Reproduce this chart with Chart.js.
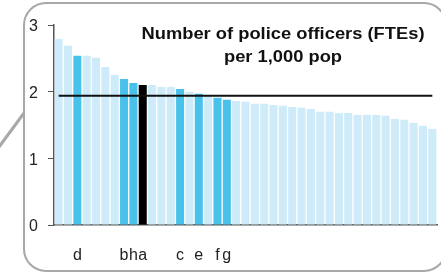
<!DOCTYPE html>
<html>
<head>
<meta charset="utf-8">
<script src="https://cdn.jsdelivr.net/npm/chart.js@4"></script>
<style>
    html, body { margin: 0; padding: 0; background: #fff; }
    #wrap { position: relative; width: 441px; height: 273px; }
</style>
</head>
<body>
<div id="wrap"><canvas id="policeChart" width="441" height="273"></canvas></div>
<script>
// forces, sorted high to low; letters mark the highlighted ones
const forceLabels = ['', '', 'd', '', '', '', '', 'b', 'h', 'a',
    '', '', '', 'c', '', 'e', '', 'f', 'g', '',
    '', '', '', '', '', '', '', '', '', '',
    '', '', '', '', '', '', '', '', '', '', ''];
const officersPer1000 = [2.79, 2.69, 2.54, 2.54, 2.51, 2.37, 2.25, 2.19, 2.13, 2.10,
    2.10, 2.07, 2.07, 2.04, 2.00, 1.97, 1.95, 1.91, 1.88, 1.86,
    1.85, 1.82, 1.82, 1.80, 1.79, 1.77, 1.76, 1.74, 1.70, 1.70,
    1.68, 1.68, 1.65, 1.65, 1.65, 1.64, 1.59, 1.58, 1.53, 1.49, 1.44];
const averageValue = 1.94;
const yTicks = [0, 1, 2, 3];

const LIGHT = '#cdebf8';
const DARK = '#48c1eb';

function barColor(label) {
    if (label === 'a') return '#000000';
    if (label) return DARK;
    return LIGHT;
}

// rounded frame + the pointer line on the left, and the title text
const decorPlugin = {
    id: 'decor',
    beforeDraw(chart) {
        const ctx = chart.ctx;
        ctx.save();
        ctx.strokeStyle = '#a8a8a8';
        ctx.lineWidth = 2;
        ctx.beginPath();
        ctx.roundRect(24, 3, 422, 268, 22);
        ctx.stroke();
        ctx.lineWidth = 3;
        ctx.beginPath();
        ctx.moveTo(-1, 147);
        ctx.lineTo(24, 113);
        ctx.stroke();
        ctx.restore();
    },
    afterDraw(chart) {
        const ctx = chart.ctx;
        ctx.save();
        ctx.fillStyle = '#111';
        ctx.font = 'bold 16px "Liberation Sans", Arial, sans-serif';
        ctx.textAlign = 'center';
        ctx.textBaseline = 'alphabetic';
        ctx.translate(283, 0);
        ctx.scale(1.145, 1);
        ctx.fillText('Number of police officers (FTEs)', 0, 39);
        ctx.fillText('per 1,000 pop', 0, 62);
        ctx.restore();
    }
};

new Chart(document.getElementById('policeChart'), {
    type: 'bar',
    data: {
        labels: forceLabels,
        datasets: [{
            type: 'line',
            data: forceLabels.map(() => averageValue),
            borderColor: '#111',
            borderWidth: 2,
            pointRadius: 0,
            fill: false,
            order: 0,
        }, {
            data: officersPer1000,
            backgroundColor: forceLabels.map(barColor),
            borderWidth: 0,
            barPercentage: 0.86,
            categoryPercentage: 1,
            order: 1,
        }]
    },
    options: {
        responsive: false,
        animation: false,
        layout: { padding: { top: 25, right: 4, bottom: 0, left: 0 } },
        plugins: { legend: { display: false }, tooltip: { enabled: false } },
        scales: {
            x: {
                grid: { display: false },
                border: { display: true, color: '#555', width: 1.5 },
                ticks: {
                    autoSkip: false, maxRotation: 0, padding: 13, color: '#222',
                    font: { family: '"Liberation Sans", Arial, sans-serif', size: 16 }
                },
                afterFit(scale) {
                    scale.height = 48;
                    scale.paddingLeft = 0;
                    scale.paddingRight = 0;
                }
            },
            y: {
                min: 0,
                max: 3,
                afterBuildTicks(scale) { scale.ticks = yTicks.map(v => ({ value: v })); },
                grid: { drawOnChartArea: false, tickLength: 6, color: '#555' },
                border: { display: true, color: '#555', width: 1.5 },
                ticks: {
                    padding: 10, labelOffset: 2, color: '#222',
                    font: { family: '"Liberation Sans", Arial, sans-serif', size: 16 }
                },
                afterFit(scale) { scale.width = 54; }
            }
        }
    },
    plugins: [decorPlugin]
});
</script>
</body>
</html>
